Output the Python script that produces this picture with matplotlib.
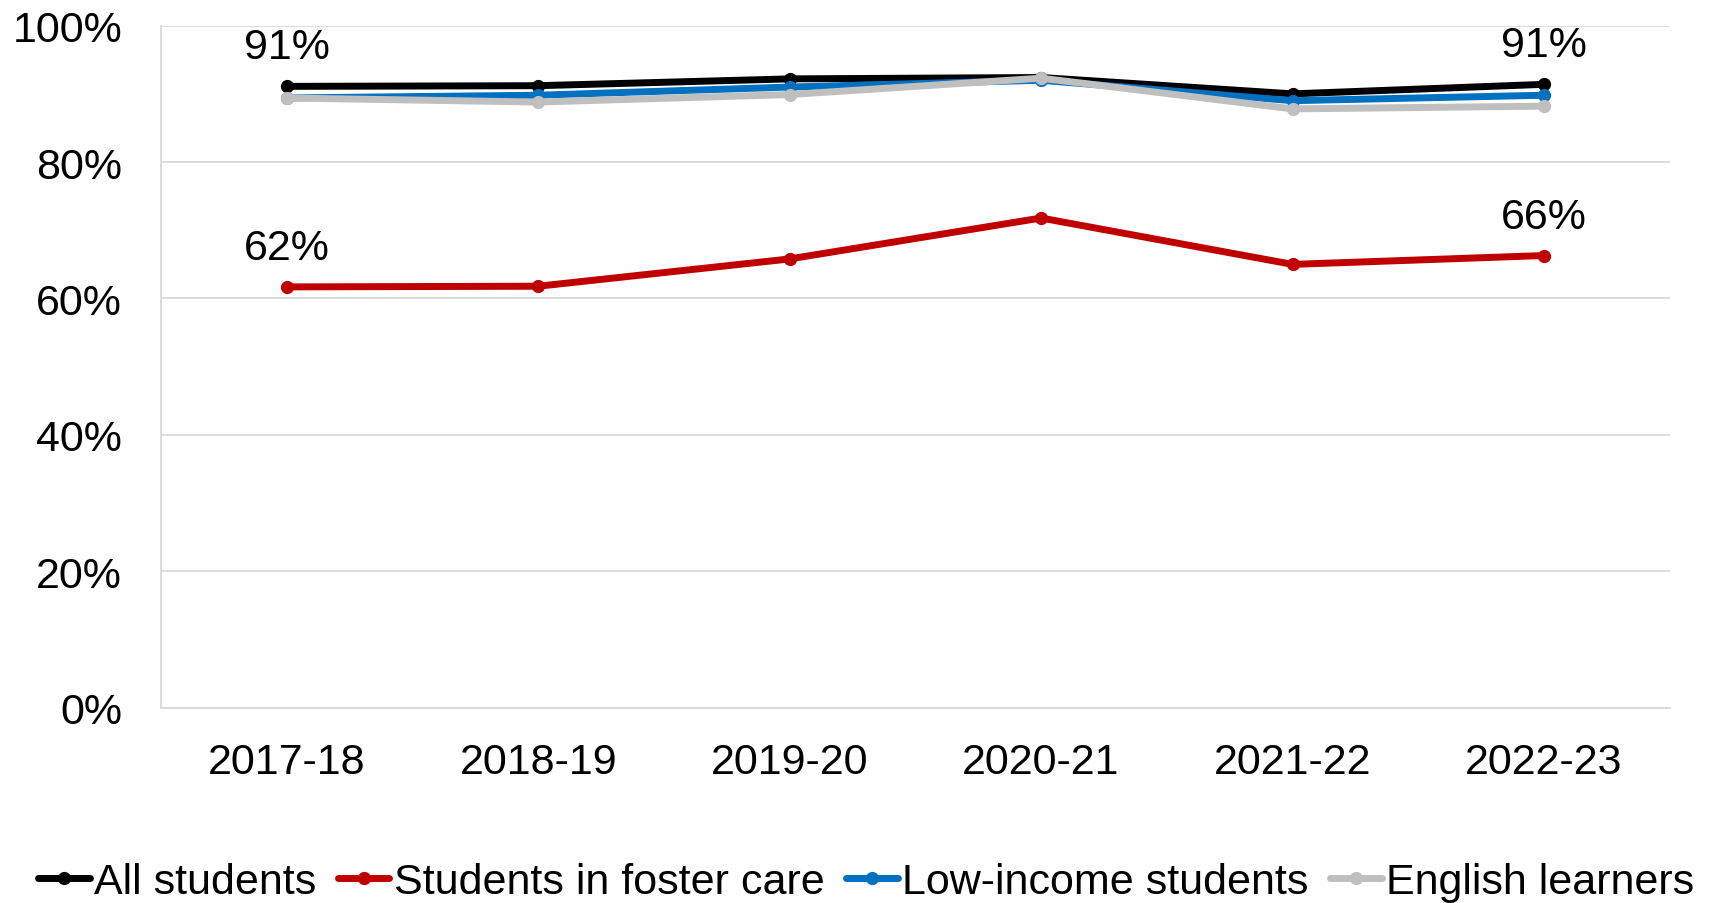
import matplotlib.pyplot as plt
import numpy as np

plt.rcParams['font.family'] = ['Liberation Sans', 'DejaVu Sans']

years = ['2017-18', '2018-19', '2019-20', '2020-21', '2021-22', '2022-23']
all_students = [91.1, 91.2, 92.2, 92.4, 90.0, 91.4]
foster_care = [61.7, 61.8, 65.8, 71.8, 65.0, 66.3]
low_income = [89.4, 89.8, 91.0, 92.0, 89.0, 89.8]
english_learners = [89.4, 88.8, 89.9, 92.3, 87.8, 88.2]

series = [
    ('All students', all_students, '#000000'),
    ('Students in foster care', foster_care, '#C00000'),
    ('Low-income students', low_income, '#0070C0'),
    ('English learners', english_learners, '#BFBFBF'),
]

fig = plt.figure(figsize=(17.32, 9.04), dpi=100)
ax = fig.add_axes([0.093, 0.216, 0.871, 0.7545])

x = np.arange(len(years))
for name, vals, col in series:
    ax.plot(x, vals, color=col, lw=5, marker='o', ms=8.5, label=name,
            solid_capstyle='round')

# data labels on first and last points
for vals in (all_students, foster_care):
    for i in (0, len(vals) - 1):
        ax.annotate(f'{round(vals[i])}%', (x[i], vals[i]), xytext=(0, 28),
                    textcoords='offset points', ha='center', va='center',
                    fontsize=31)

ax.set_xlim(-0.5, 5.5)
ax.set_ylim(0, 100)
ax.set_yticks(np.arange(0, 101, 20))
ax.set_yticklabels([f'{v}%' for v in range(0, 101, 20)])
ax.set_xticks(x)
ax.set_xticklabels(years)
ax.tick_params(axis='both', length=0, labelsize=31)
ax.tick_params(axis='x', pad=25)
ax.tick_params(axis='y', pad=28)
ax.grid(axis='y', color='#D9D9D9', lw=1.3)
ax.set_axisbelow(True)
for s in ['top', 'right']:
    ax.spines[s].set_visible(False)
for s in ['left', 'bottom']:
    ax.spines[s].set_color('#D9D9D9')
    ax.spines[s].set_linewidth(1.3)

fig.legend(loc='center', bbox_to_anchor=(0.5, 0.023), ncol=4, frameon=False,
           fontsize=31, handlelength=1.2, handletextpad=0.1,
           columnspacing=0.5, borderaxespad=0)

fig.savefig('out.png', dpi=100)
